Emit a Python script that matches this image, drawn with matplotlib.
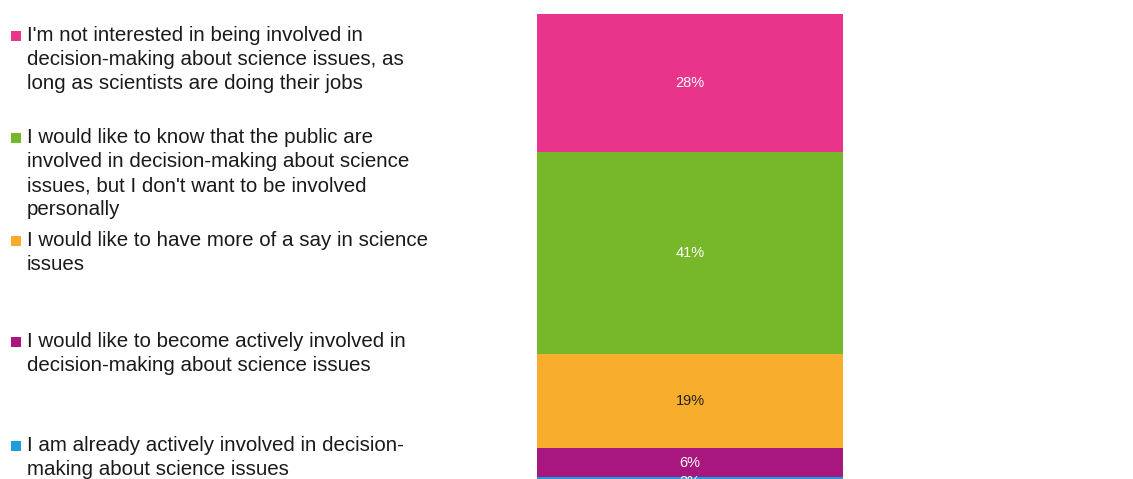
import matplotlib
matplotlib.use("Agg")
import matplotlib.pyplot as plt
from matplotlib.patches import Rectangle

plt.rcParams['font.family'] = ['Liberation Sans', 'DejaVu Sans']

# Survey responses, stacked from bottom to top
categories = [
    "I am already actively involved in decision-\nmaking about science issues",
    "I would like to become actively involved in\ndecision-making about science issues",
    "I would like to have more of a say in science\nissues",
    "I would like to know that the public are\ninvolved in decision-making about science\nissues, but I don't want to be involved\npersonally",
    "I'm not interested in being involved in\ndecision-making about science issues, as\nlong as scientists are doing their jobs",
]
values = [2, 6, 19, 41, 28]
colors = ["#1E9DD8", "#A8177E", "#F8AD2D", "#76B82A", "#E8348B"]
label_colors = ["white", "white", "#222222", "white", "white"]

W, H = 1133, 479
fig = plt.figure(figsize=(W / 100, H / 100), dpi=100)

# Stacked bar axes (extends a little below the canvas)
bar_left, bar_right, bar_top = 537, 843, 14
px_per_unit = 4.93
bar_bottom = bar_top + sum(values) * px_per_unit
ax = fig.add_axes([bar_left / W, 1 - bar_bottom / H,
                   (bar_right - bar_left) / W, (bar_bottom - bar_top) / H])
ax.set_xlim(-0.5, 0.5)
ax.set_ylim(0, sum(values))
ax.axis("off")

bottom = 0
for v, c, lc in zip(values, colors, label_colors):
    ax.bar(0, v, width=1.0, bottom=bottom, color=c, linewidth=0)
    ax.text(0, bottom + v / 2, f"{v}%", ha="center", va="center",
            fontsize=10.5, color=lc, clip_on=False)
    bottom += v

# Legend drawn in pixel space on an overlay axes
lax = fig.add_axes([0, 0, 1, 1], zorder=-1)
lax.set_xlim(0, W)
lax.set_ylim(H, 0)
lax.axis("off")

first_baselines = [451, 347, 246, 143, 41]
line_gap = 24
for cat, c, base in zip(categories, colors, first_baselines):
    lax.add_patch(Rectangle((11, base - 10), 10, 10, color=c, linewidth=0))
    for i, line in enumerate(cat.split("\n")):
        lax.text(27, base + i * line_gap, line, ha="left", va="baseline",
                 fontsize=14.8, color="#1a1a1a")

fig.savefig("out.png", dpi=100)
